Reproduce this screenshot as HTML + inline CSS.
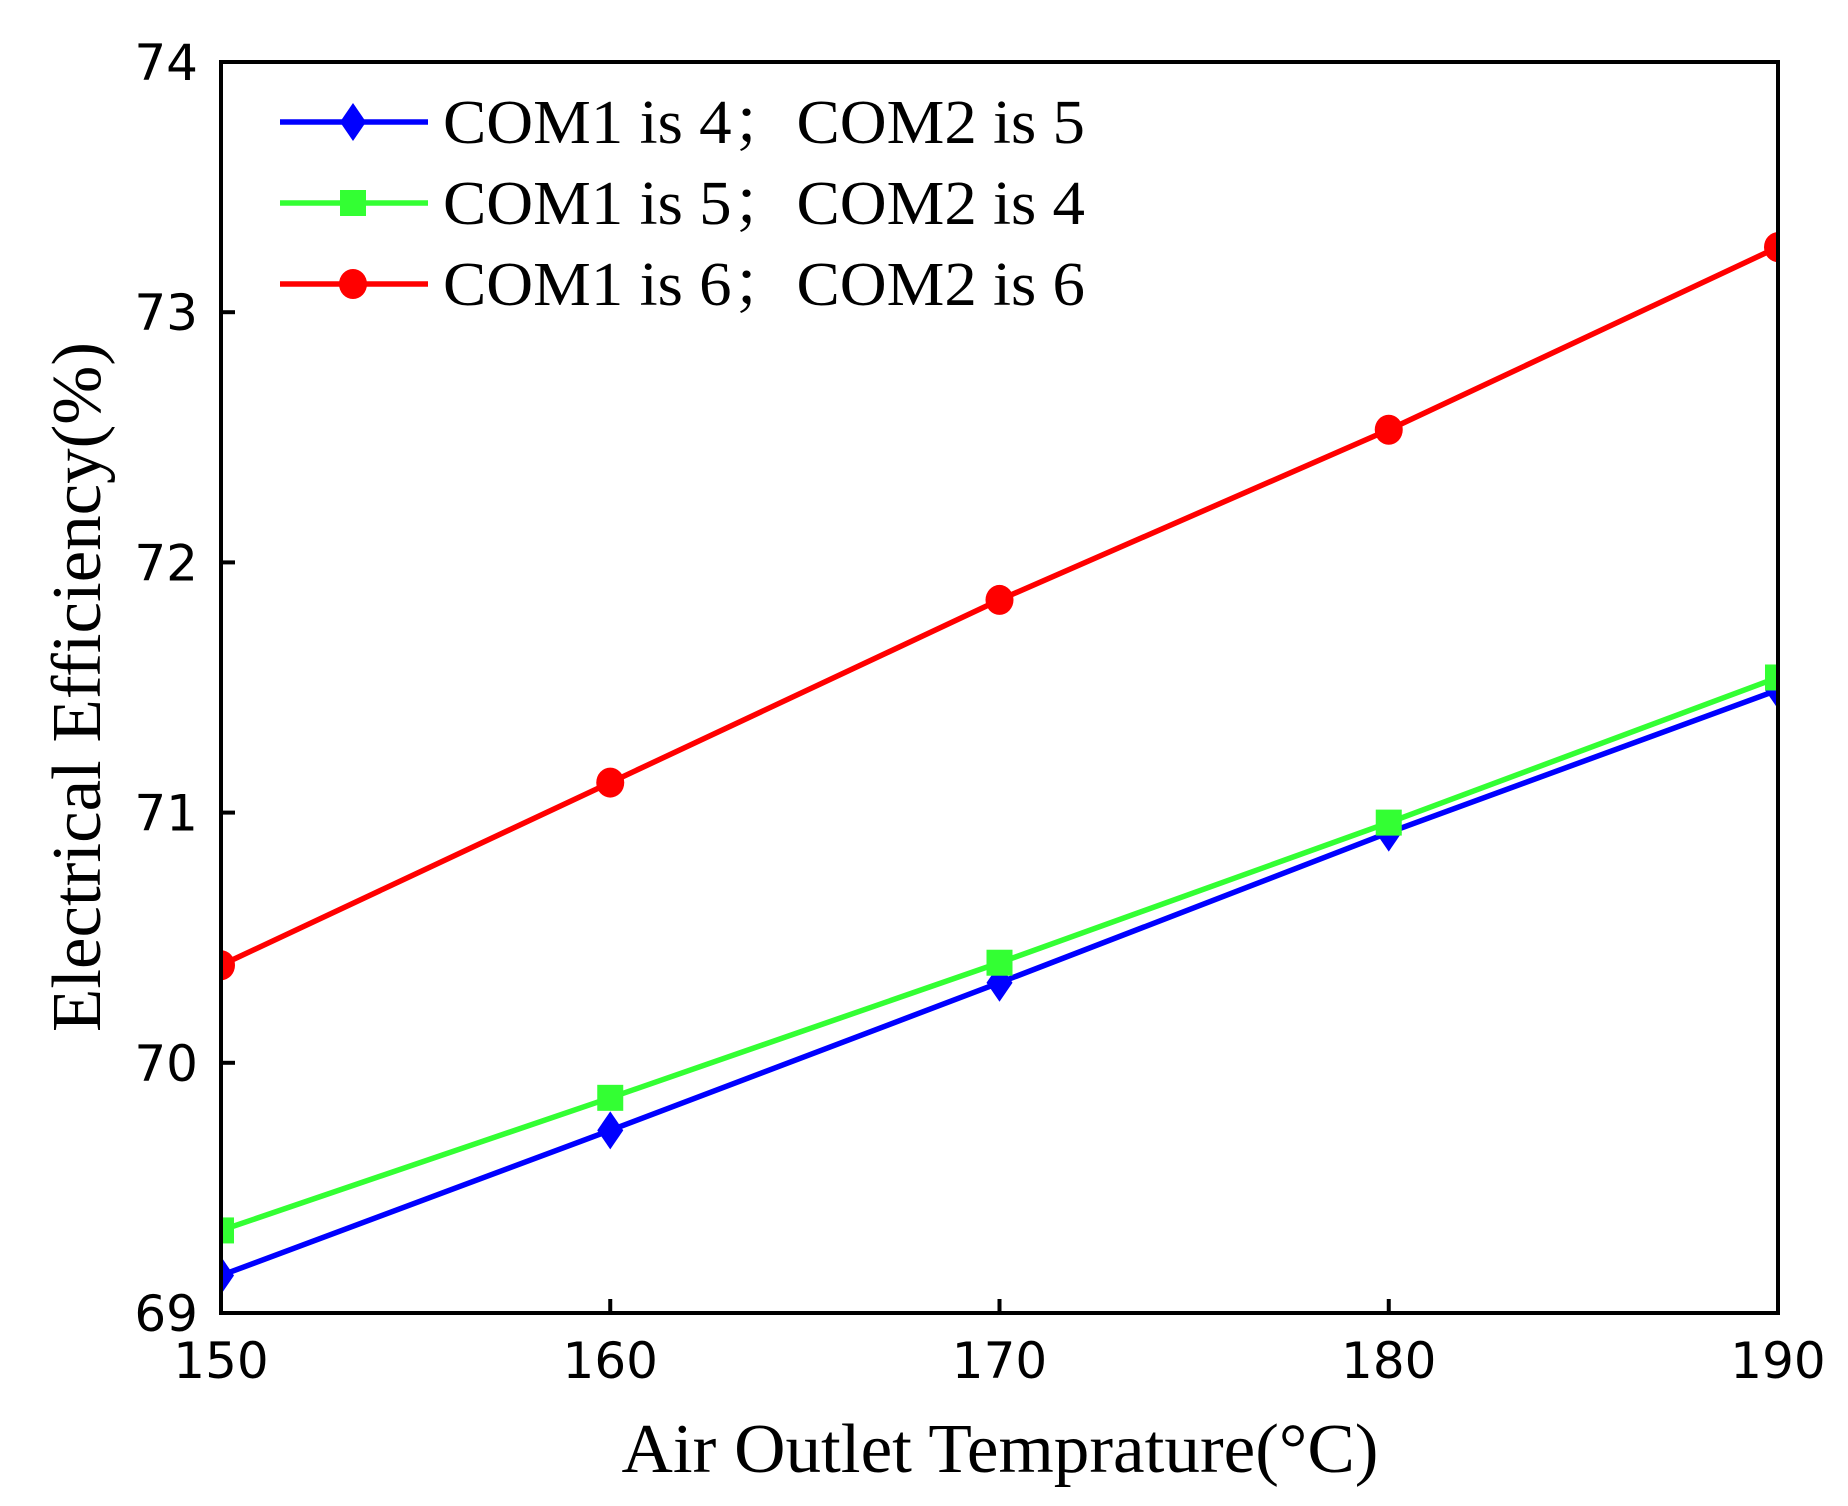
<!DOCTYPE html>
<html><head><meta charset="utf-8"><style>
html,body{margin:0;padding:0;background:#fff;}
svg{display:block;}
.tick{font-family:"DejaVu Sans","Liberation Sans",sans-serif;font-size:50px;fill:#000;}
.ser{font-family:"Liberation Serif","Noto Serif CJK SC",serif;fill:#000;}
</style></head><body>
<svg id="chart" width="1848" height="1506" viewBox="0 0 1848 1506">
<g id="grid"></g>
<g id="series"></g>
<rect x="221" y="62" width="1557" height="1251" fill="none" stroke="#000" stroke-width="4"/>
<g id="axes"></g>
<text class="ser" x="1000" y="1472" font-size="70" text-anchor="middle" textLength="757" lengthAdjust="spacingAndGlyphs">Air Outlet Temprature(°C)</text>
<text class="ser" x="0" y="0" font-size="70" text-anchor="middle" textLength="690" lengthAdjust="spacingAndGlyphs" transform="translate(100,687) rotate(-90)">Electrical Efficiency(%)</text>
<g id="legend"></g>
</svg>
<script>
const categories = [150, 160, 170, 180, 190];
const seriesBlue = [69.15, 69.73, 70.32, 70.92, 71.49];
const seriesGreen = [69.33, 69.86, 70.40, 70.96, 71.54];
const seriesRed = [70.39, 71.12, 71.85, 72.53, 73.26];
const xTicks = [150, 160, 170, 180, 190];
const yTicks = [69, 70, 71, 72, 73, 74];
const seriesNames = ["COM1 is 4\uFF1BCOM2 is 5", "COM1 is 5\uFF1BCOM2 is 4", "COM1 is 6\uFF1BCOM2 is 6"];

const NS = "http://www.w3.org/2000/svg";
const L = 221, R = 1778, T = 62, B = 1313;
const xs = v => L + (v - 150) / 40 * (R - L);
const ys = v => B - (v - 69) / 5 * (B - T);
function mk(tag, attrs, parent) {
  const e = document.createElementNS(NS, tag);
  for (const k in attrs) e.setAttribute(k, attrs[k]);
  parent.appendChild(e);
  return e;
}
const axes = document.getElementById('axes');
xTicks.forEach(t => {
  const x = xs(t);
  const ln = mk('line', {x1: x, x2: x, y1: B, y2: B - 14, stroke: '#000', 'stroke-width': 4}, axes);
  
  
  const tx = mk('text', {x: x, y: 1378, class: 'tick', 'text-anchor': 'middle'}, axes);
  tx.textContent = t;
  
  
});
yTicks.forEach(t => {
  const y = ys(t);
  const ln = mk('line', {x1: L, x2: L + 14, y1: y, y2: y, stroke: '#000', 'stroke-width': 4}, axes);
  
  
  const tx = mk('text', {x: 198, y: y + 18, class: 'tick', 'text-anchor': 'end'}, axes);
  tx.textContent = t;
  
  
});
function marker(kind, x, y, color, parent) {
  let m;
  if (kind === 'diamond') m = mk('polygon', {points: `${x},${y-19} ${x+13},${y} ${x},${y+19} ${x-13},${y}`, fill: color}, parent);
  else if (kind === 'square') m = mk('rect', {x: x-13, y: y-13, width: 26, height: 26, fill: color}, parent);
  else m = mk('ellipse', {cx: x, cy: y, rx: 14, ry: 15, fill: color}, parent);
  return m;
}
const defs = [
  {vals: seriesBlue, color: '#0000ff', kind: 'diamond', name: 'blue'},
  {vals: seriesGreen, color: '#33ff33', kind: 'square', name: 'green'},
  {vals: seriesRed, color: '#ff0000', kind: 'circle', name: 'red'}
];
const sg = document.getElementById('series');
const clip = mk('clipPath', {id: 'pc'}, sg);
mk('rect', {x: L, y: T, width: R - L, height: B - T}, clip);
defs.forEach(d => {
  const g = mk('g', {'clip-path': 'url(#pc)'}, sg);
  
  
  const pts = categories.map((c, i) => xs(c) + ',' + ys(d.vals[i])).join(' ');
  const pl = mk('polyline', {points: pts, fill: 'none', stroke: d.color, 'stroke-width': 5.5}, g);
  
  
  categories.forEach((c, i) => {
    const m = marker(d.kind, xs(c), ys(d.vals[i]), d.color, g);
    
    
  });
});
const lg = document.getElementById('legend');


defs.forEach((d, i) => {
  const y = 122 + i * 81;
  const g = mk('g', {}, lg);
  
  
  mk('line', {x1: 280, x2: 428, y1: y, y2: y, stroke: d.color, 'stroke-width': 5.5}, g);
  marker(d.kind, 353, y, d.color, g);
  const t = mk('text', {x: 443, y: y + 21, class: 'ser', 'font-size': 62, textLength: 642, lengthAdjust: 'spacingAndGlyphs'}, g);
  t.textContent = seriesNames[i];
});
</script>
</body></html>
